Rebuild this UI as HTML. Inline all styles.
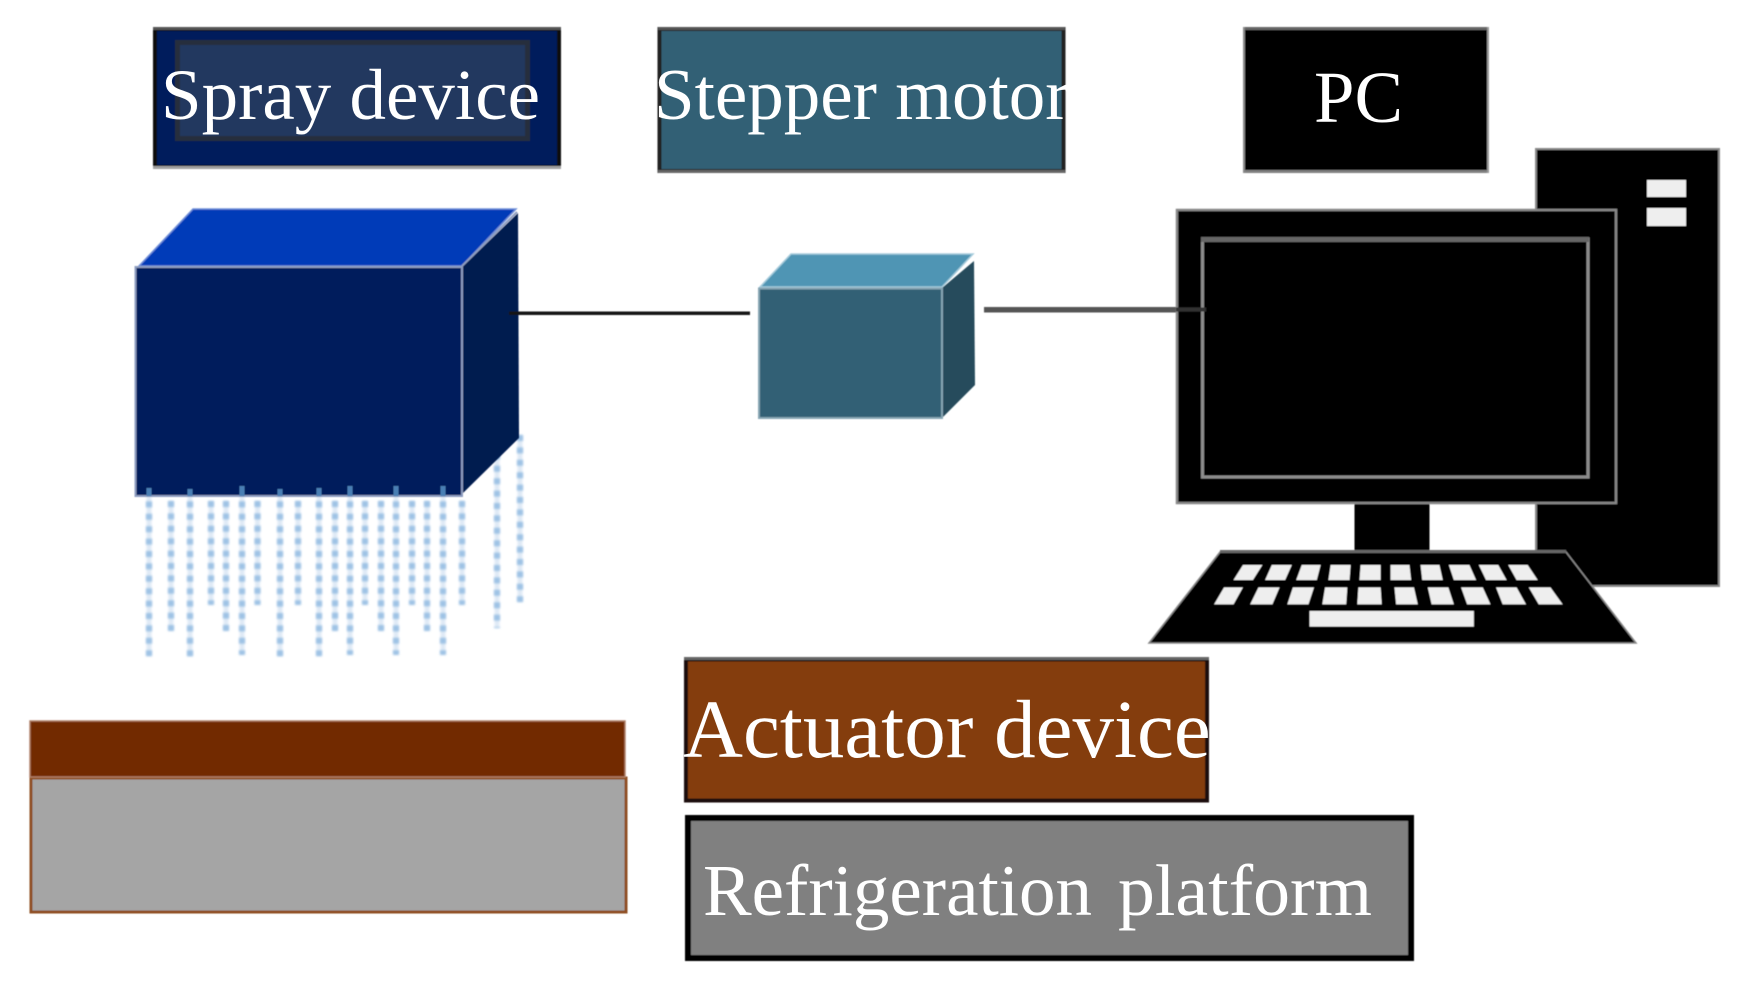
<!DOCTYPE html>
<html lang="en">
<head>
<meta charset="utf-8">
<title>Spray system diagram</title>
<style>
html,body{margin:0;padding:0;background:#fff;width:1739px;height:982px;overflow:hidden}
svg{display:block}
text{font-family:"Liberation Serif",serif;fill:#fff}
</style>
</head>
<body>
<svg width="1739" height="982" viewBox="0 0 1739 982" xmlns="http://www.w3.org/2000/svg">
<defs>
<filter id="b" x="-5%" y="-5%" width="110%" height="110%"><feGaussianBlur stdDeviation="0.6"/></filter>
<filter id="d" x="-300%" y="-5%" width="700%" height="110%"><feGaussianBlur stdDeviation="1.1"/></filter>
<clipPath id="c1"><rect x="640" y="20" width="427" height="160"/></clipPath>
<clipPath id="c2"><rect x="670" y="650" width="541" height="160"/></clipPath>
</defs>
<rect width="1739" height="982" fill="#fff"/>

<!-- spray drops -->
<g filter="url(#d)" fill="none" stroke="#dfeaf6" stroke-width="5">
<line x1="149" y1="489" x2="149" y2="655"/>
<line x1="171" y1="501" x2="171" y2="630"/>
<line x1="190" y1="489" x2="190" y2="656"/>
<line x1="211" y1="501" x2="211" y2="603"/>
<line x1="226" y1="501" x2="226" y2="630"/>
<line x1="242" y1="489" x2="242" y2="653"/>
<line x1="257.5" y1="501" x2="257.5" y2="603"/>
<line x1="280" y1="489" x2="280" y2="656"/>
<line x1="298" y1="501" x2="298" y2="603"/>
<line x1="319" y1="489" x2="319" y2="655"/>
<line x1="335" y1="501" x2="335" y2="630"/>
<line x1="350" y1="489" x2="350" y2="653"/>
<line x1="365" y1="501" x2="365" y2="603"/>
<line x1="381" y1="501" x2="381" y2="630"/>
<line x1="396" y1="489" x2="396" y2="653"/>
<line x1="412" y1="501" x2="412" y2="603"/>
<line x1="427" y1="501" x2="427" y2="630"/>
<line x1="443" y1="489" x2="443" y2="653"/>
<line x1="462" y1="501" x2="462" y2="603"/>
<line x1="497" y1="441" x2="497" y2="628"/>
<line x1="520" y1="435" x2="520" y2="602"/>
</g>
<g filter="url(#d)" fill="none" stroke="#9fc3e5" stroke-width="6" stroke-dasharray="6 6.4">
<line x1="149" y1="489" x2="149" y2="657"/>
<line x1="171" y1="501" x2="171" y2="632"/>
<line x1="190" y1="489" x2="190" y2="658"/>
<line x1="211" y1="501" x2="211" y2="605"/>
<line x1="226" y1="501" x2="226" y2="632"/>
<line x1="242" y1="489" x2="242" y2="655"/>
<line x1="257.5" y1="501" x2="257.5" y2="605"/>
<line x1="280" y1="489" x2="280" y2="658"/>
<line x1="298" y1="501" x2="298" y2="605"/>
<line x1="319" y1="489" x2="319" y2="657"/>
<line x1="335" y1="501" x2="335" y2="632"/>
<line x1="350" y1="489" x2="350" y2="655"/>
<line x1="365" y1="501" x2="365" y2="605"/>
<line x1="381" y1="501" x2="381" y2="632"/>
<line x1="396" y1="489" x2="396" y2="655"/>
<line x1="412" y1="501" x2="412" y2="605"/>
<line x1="427" y1="501" x2="427" y2="632"/>
<line x1="443" y1="489" x2="443" y2="655"/>
<line x1="462" y1="501" x2="462" y2="605"/>
<line x1="497" y1="441" x2="497" y2="628"/>
<line x1="520" y1="435" x2="520" y2="602"/>
</g>

<g filter="url(#b)">
<!-- spray label -->
<rect x="155" y="29" width="404" height="138" fill="#001f5c" stroke="#111" stroke-width="4"/>
<rect x="153" y="27" width="408" height="3" fill="#555"/>
<rect x="153" y="166" width="408" height="3" fill="#a0a0a0"/>
<rect x="177.500" y="42.500" width="350" height="96" fill="#20375f" stroke="#262e3e" stroke-width="5"/>

<!-- stepper label -->
<rect x="659.500" y="29" width="404" height="142" fill="#336175" stroke="#222" stroke-width="4"/>
<rect x="658" y="27" width="407" height="3" fill="#555"/>
<rect x="658" y="170" width="407" height="3" fill="#666"/>

<!-- PC label -->
<rect x="1243" y="27" width="246" height="146" fill="#000"/>
<rect x="1243" y="27" width="246" height="3" fill="#666"/>
<rect x="1243" y="170" width="246" height="3" fill="#808080"/>
<rect x="1487" y="27" width="2" height="146" fill="#999"/>
<rect x="1243" y="27" width="2" height="146" fill="#888"/>

<!-- blue cube -->
<polygon points="139,266 193,209 516,209 462,266" fill="#003bb8" stroke="#6f8fd8" stroke-width="1.500"/>
<polygon points="462,267 518,213 519,438 462,494" fill="#001a4f"/>
<rect x="135.500" y="267" width="326.500" height="229" fill="#001f5c" stroke="#8c9cc0" stroke-width="2"/>
<line x1="462" y1="266" x2="517" y2="212" stroke="#8c9cc0" stroke-width="2"/>

<!-- drop heads over cube base -->
<g fill="#4a7fb4">
<rect x="146.500" y="488" width="5" height="8"/>
<rect x="187.500" y="489" width="5" height="7"/>
<rect x="239.500" y="486" width="5" height="10"/>
<rect x="277.500" y="489" width="5" height="7"/>
<rect x="316.500" y="488" width="5" height="8"/>
<rect x="347.500" y="486" width="5" height="10"/>
<rect x="393.500" y="486" width="5" height="10"/>
<rect x="440.500" y="486" width="5" height="10"/>
</g>

<!-- connector lines -->
<rect x="509" y="311.500" width="241" height="3.500" fill="#151515"/>
<rect x="984" y="307" width="196" height="5.500" fill="#555"/>

<!-- small cube -->
<polygon points="760,287 791,254 973,254 942,287" fill="#5095b4" stroke="#a5cbdb" stroke-width="1.500"/>
<polygon points="942,288 974,261 975,385 942,418" fill="#254c5c"/>
<rect x="759" y="288.500" width="183" height="129.500" fill="#336175" stroke="#86a5b3" stroke-width="2"/>

<!-- platform -->
<rect x="31" y="778" width="595" height="134" fill="#a5a5a5" stroke="#8f4f22" stroke-width="3"/>
<rect x="30" y="721" width="595" height="56" fill="#722c00" stroke="#b08068" stroke-width="1.500"/>

<!-- actuator label -->
<rect x="686" y="659.500" width="521" height="141" fill="#843c0c" stroke="#1c1008" stroke-width="4"/>
<rect x="684" y="657" width="525" height="3" fill="#666"/>

<!-- refrigeration label -->
<rect x="688" y="818" width="723" height="140" fill="#808080" stroke="#000" stroke-width="6"/>

<!-- computer -->
<rect x="1536" y="149" width="183" height="437" fill="#000" stroke="#888" stroke-width="2"/>
<rect x="1647" y="180" width="39" height="17" fill="#eee"/>
<rect x="1647" y="208" width="39" height="18" fill="#eee"/>
<rect x="1354.500" y="500" width="75" height="55" fill="#000"/>
<rect x="1177" y="210" width="439" height="293" fill="#000" stroke="#888" stroke-width="2.500"/>
<rect x="1202.500" y="239" width="385.500" height="238" fill="#000" stroke="#8c8c8c" stroke-width="3"/>
<rect x="1201" y="237" width="388" height="5" fill="#666"/>
<line x1="1176" y1="309.500" x2="1206" y2="309.500" stroke="#333" stroke-width="4"/>
<polygon points="1220,552 1566,552 1636,643 1149,643" fill="#000" stroke="#888" stroke-width="1.500"/>
<rect x="1220" y="550" width="346" height="3" fill="#666"/>
<g transform="translate(870,480) scale(0.555,0.3333)" fill="#eee">
<polygon points="672,255 707,255 690,300 655,300"/>
<polygon points="724,255 760,255 748,300 712,300"/>
<polygon points="778,255 812,255 805,300 768,300"/>
<polygon points="830,255 866,255 864,300 826,300"/>
<polygon points="884,255 920,255 920,300 882,300"/>
<polygon points="938,255 972,255 975,300 938,300"/>
<polygon points="992,255 1026,255 1032,300 995,300"/>
<polygon points="1043,255 1080,255 1092,300 1052,300"/>
<polygon points="1097,255 1132,255 1147,300 1110,300"/>
<polygon points="1150,255 1185,255 1203,300 1165,300"/>
<polygon points="638,322 672,322 655,373 620,373"/>
<polygon points="700,322 738,322 725,373 685,373"/>
<polygon points="762,322 800,322 790,373 752,373"/>
<polygon points="820,322 860,322 858,373 815,373"/>
<polygon points="880,322 920,322 922,373 878,373"/>
<polygon points="945,322 980,322 987,373 948,373"/>
<polygon points="1005,322 1042,322 1052,373 1012,373"/>
<polygon points="1065,322 1104,322 1118,373 1076,373"/>
<polygon points="1128,322 1165,322 1182,373 1140,373"/>
<polygon points="1187,322 1226,322 1248,373 1205,373"/>
<rect x="792" y="393" width="296" height="47"/>
</g>
</g>

<!-- labels -->
<text x="161" y="119" font-size="72" textLength="379" lengthAdjust="spacingAndGlyphs">Spray device</text>
<g clip-path="url(#c1)"><text x="654" y="119" font-size="73">Stepper motor</text></g>
<text x="1314" y="122" font-size="73" textLength="89" lengthAdjust="spacingAndGlyphs">PC</text>
<g clip-path="url(#c2)"><text x="683" y="757" font-size="83">Actuator device</text></g>
<text x="703" y="915" font-size="73" textLength="389" lengthAdjust="spacingAndGlyphs">Refrigeration</text>
<text x="1118" y="915" font-size="73" textLength="254" lengthAdjust="spacingAndGlyphs">platform</text>
</svg>
</body>
</html>
